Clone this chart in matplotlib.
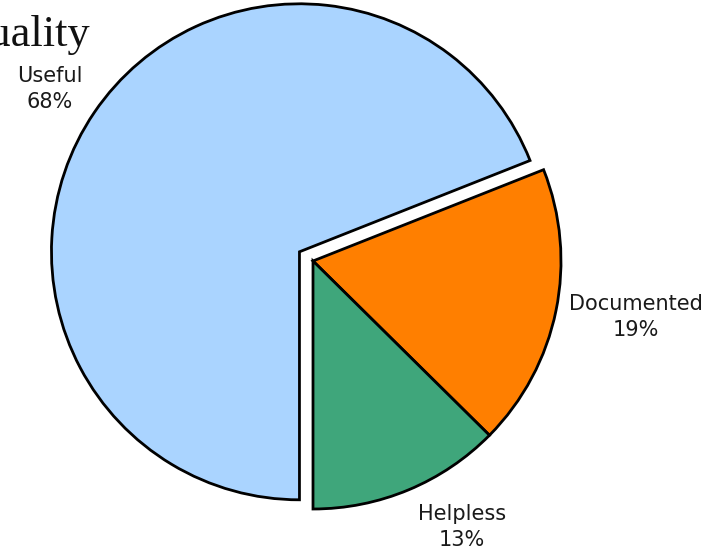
import numpy as np
import matplotlib
matplotlib.use("Agg")
import matplotlib.pyplot as plt

categories = ["Useful", "Documented", "Helpless"]
shares = [69.0, 18.4, 12.6]
share_labels = ["68%", "19%", "13%"]
colors = ["#aad4ff", "#ff7f00", "#3fa67b"]

# label placement (angle in degrees, distance in radii) relative to pie centre
label_angle = [146.8, -9.8, -60.8]
label_dist = [1.267, 1.32, 1.23]

W, H = 722, 555
r_px = 248.0
cx, cy = 313.0, 261.0

fig = plt.figure(figsize=(W / 100, H / 100), dpi=100)
ax = fig.add_axes([0, 0, 1, 1])

ax.pie(shares, colors=colors, startangle=270, counterclock=False,
       explode=[0.066, 0, 0], radius=1.0, center=(0, 0),
       wedgeprops=dict(edgecolor="black", linewidth=2.0))

# pie() resets the limits, so map data units to pixels afterwards
ax.set_xlim(-cx / r_px, (W - cx) / r_px)
ax.set_ylim(-(H - cy) / r_px, cy / r_px)
ax.set_aspect("equal")
ax.axis("off")

for name, pct, a, d in zip(categories, share_labels, label_angle, label_dist):
    t = np.deg2rad(a)
    ax.text(d * np.cos(t), d * np.sin(t), f"{name}\n{pct}", ha="center", va="center",
            fontsize=15, family="DejaVu Sans", color="#1a1a1a", linespacing=1.35)

fig.text(90 / W, 1 - 46 / H, "Quality", ha="right", va="baseline",
         fontsize=32, family="Liberation Serif", color="#111111")

fig.savefig("out.png", dpi=100)
